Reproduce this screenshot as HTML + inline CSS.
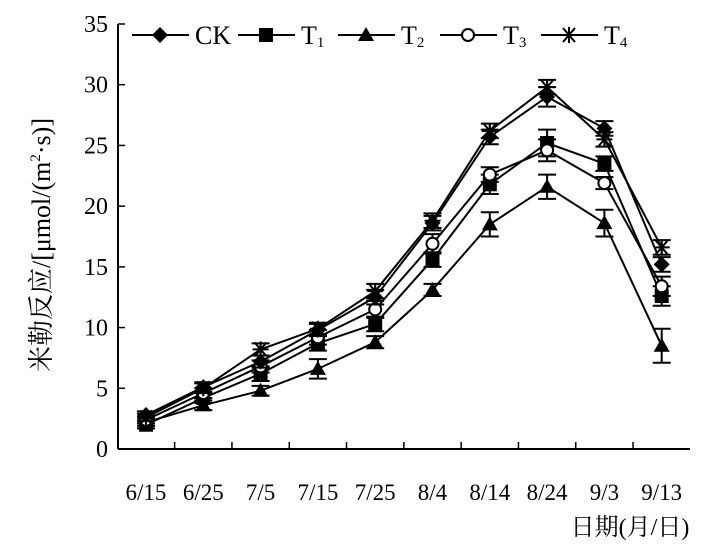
<!DOCTYPE html>
<html><head><meta charset="utf-8"><style>
body{margin:0;background:#fff}
svg text{font-family:"Liberation Serif","Noto Serif CJK SC",serif;fill:#000}
</style></head><body>
<svg id="c" width="714" height="549" viewBox="0 0 714 549"></svg>
<script>
const categories=["6/15","6/25","7/5","7/15","7/25","8/4","8/14","8/24","9/3","9/13"];
const yTicks=[0,5,10,15,20,25,30,35];
const seriesNames=["CK","T1","T2","T3","T4"];
const ck=[2.8,5.1,7.2,9.8,12.5,18.6,25.7,29.0,26.4,15.2];
const t1=[2.0,4.2,6.2,8.7,10.3,15.6,21.8,25.2,23.5,12.6];
const t2=[2.2,3.6,4.8,6.6,8.8,13.1,18.5,21.6,18.6,8.5];
const t3=[2.4,4.6,6.8,9.2,11.5,16.9,22.6,24.6,21.9,13.4];
const t4=[2.6,5.0,8.2,9.9,13.0,18.8,26.2,29.8,25.5,16.6];
const ckErr=[0.3,0.4,0.5,0.5,0.6,0.6,0.6,0.8,0.6,0.6];
const t1Err=[0.3,0.4,0.6,0.6,0.6,0.6,0.8,1.1,0.6,0.8];
const t2Err=[0.3,0.4,0.4,0.8,0.5,0.5,1.0,1.0,1.1,1.4];
const t3Err=[0.3,0.4,0.5,0.6,0.7,0.8,0.6,0.9,0.5,0.8];
const t4Err=[0.3,0.4,0.5,0.5,0.6,0.6,0.6,0.6,0.6,0.6];
const values=[ck,t1,t2,t3,t4];
const errs=[ckErr,t1Err,t2Err,t3Err,t4Err];
const NS="http://www.w3.org/2000/svg";
const svg=document.getElementById('c');
const x0=118,x1=690,y0=449,yTop=24,ymax=35;
const step=57.3,xFirst=146;
function xs(i){return xFirst+i*step;}
function ys(v){return y0-(v/ymax)*(y0-yTop);}
function mk(tag,at,name,parent){const e=document.createElementNS(NS,tag);for(const k in at)e.setAttribute(k,at[k]);


(parent||svg).appendChild(e);return e;}
mk('line',{x1:x0,y1:yTop,x2:x0,y2:y0,stroke:'#000','stroke-width':2},'y-axis');
mk('line',{x1:x0,y1:y0,x2:x1,y2:y0,stroke:'#000','stroke-width':2},'x-axis');
yTicks.forEach(v=>{const y=ys(v);
mk('line',{x1:x0,y1:y,x2:x0+7,y2:y,stroke:'#000','stroke-width':1.5},'y-tick');
const t=mk('text',{x:x0-10,y:y+8,'text-anchor':'end','font-size':24},'y-tick-label');t.textContent=v;});
categories.forEach((c,i)=>{const xb=xs(i)+step/2;
if(i<categories.length-1)mk('line',{x1:xb,y1:y0,x2:xb,y2:y0-7,stroke:'#000','stroke-width':1.5},'x-tick');
const t=mk('text',{x:xs(i),y:500,'text-anchor':'middle','font-size':23},'x-tick-label');t.textContent=c;});
const yt=mk('text',{x:0,y:0,'text-anchor':'middle','font-size':26,transform:'translate(50,245) rotate(-90)'},'y-axis-title');
yt.innerHTML='米勒反应/[μmol/(m<tspan font-size="15" dy="-10">2</tspan><tspan dy="10">·s)]</tspan>';
const xt=mk('text',{x:630,y:535,'text-anchor':'middle','font-size':24},'x-axis-title');xt.textContent='日期(月/日)';
function marker(k,x,y,g){
if(k===0)mk('polygon',{points:`${x},${y-8} ${x+8},${y} ${x},${y+8} ${x-8},${y}`,fill:'#000'},'marker-ck',g);
else if(k===1)mk('rect',{x:x-7,y:y-7,width:14,height:14,fill:'#000'},'marker-t1',g);
else if(k===2)mk('polygon',{points:`${x},${y-8} ${x+8},${y+6} ${x-8},${y+6}`,fill:'#000'},'marker-t2',g);
else if(k===3)mk('circle',{cx:x,cy:y,r:6,fill:'#fff',stroke:'#000','stroke-width':2},'marker-t3',g);
else{const g2=mk('g',{stroke:'#000','stroke-width':2},'marker-t4',g);
[[-8,0,8,0],[-6,-7,6,7],[-6,7,6,-7],[0,-8,0,8]].forEach(a=>mk('line',{x1:x+a[0],y1:y+a[1],x2:x+a[2],y2:y+a[3]},'star-stroke',g2));}
}
const order=[2,1,3,0,4];
order.forEach(k=>{const g=mk('g',{},'series-'+seriesNames[k].toLowerCase());
const d=values[k].map((v,i)=>(i?'L':'M')+xs(i)+','+ys(v)).join(' ');
mk('path',{d:d,fill:'none',stroke:'#000','stroke-width':2},'line-'+seriesNames[k].toLowerCase(),g);
values[k].forEach((v,i)=>{const x=xs(i),e=errs[k][i];
mk('path',{d:`M${x},${ys(v-e)}V${ys(v+e)}M${x-9},${ys(v-e)}h18M${x-9},${ys(v+e)}h18`,stroke:'#000','stroke-width':2,fill:'none'},'error-bar',g);
marker(k,x,ys(v),g);});});
const lg=mk('g',{},'legend');
const lx=[132,238,338,440,541];
seriesNames.forEach((n,k)=>{const g=mk('g',{},'legend-entry',lg);
mk('line',{x1:lx[k],y1:35,x2:lx[k]+57,y2:35,stroke:'#000','stroke-width':2},'legend-line',g);
marker(k,lx[k]+28,35,g);
const t=mk('text',{x:lx[k]+63,y:44,'font-size':26},'legend-label',g);
if(k===0)t.textContent='CK';else t.innerHTML='T<tspan font-size="15" dy="3">'+k+'</tspan>';});
</script>
</body></html>
